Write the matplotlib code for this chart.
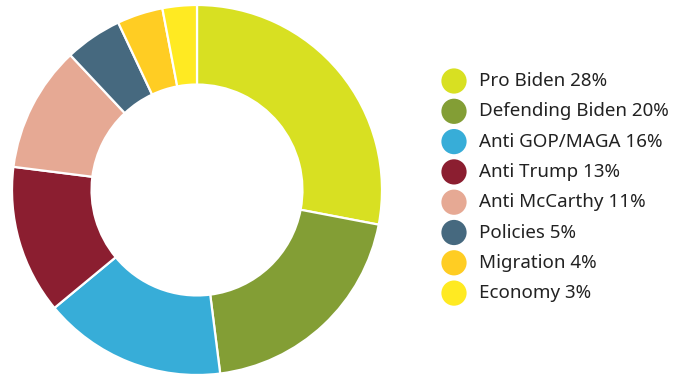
import matplotlib
matplotlib.use("Agg")
import matplotlib.pyplot as plt

categories = ["Pro Biden", "Defending Biden", "Anti GOP/MAGA", "Anti Trump",
              "Anti McCarthy", "Policies", "Migration", "Economy"]
shares = [28, 20, 16, 13, 11, 5, 4, 3]
colors = ["#D8E022", "#839E35", "#37ADD8", "#8B1E30",
          "#E6A994", "#46697F", "#FFCD23", "#FFEA22"]

W, H = 674, 376
fig = plt.figure(figsize=(W / 100, H / 100), dpi=100)

# donut
cx, cy, r = 197, 190, 185
ax = fig.add_axes([(cx - r) / W, (H - cy - r) / H, 2 * r / W, 2 * r / H])
ax.pie(shares, colors=colors, startangle=90, counterclock=False, radius=1,
       wedgeprops=dict(width=0.43, edgecolor="white", linewidth=1.6))
ax.set_xlim(-1, 1)
ax.set_ylim(-1, 1)
ax.set_aspect("equal")
ax.axis("off")

# legend
lx, ly0, step = 454, 81, 30.3
lax = fig.add_axes([0, 0, 1, 1])
lax.set_xlim(0, W)
lax.set_ylim(H, 0)
lax.axis("off")
for i, (name, val, col) in enumerate(zip(categories, shares, colors)):
    y = ly0 + i * step
    lax.scatter([lx], [y], s=330, color=col, edgecolors="none")
    lax.text(lx + 25, y, f"{name} {val}%", va="center", ha="left",
             fontsize=13.5, color="#222222", family="Noto Sans")

fig.savefig("out.png", dpi=100)
